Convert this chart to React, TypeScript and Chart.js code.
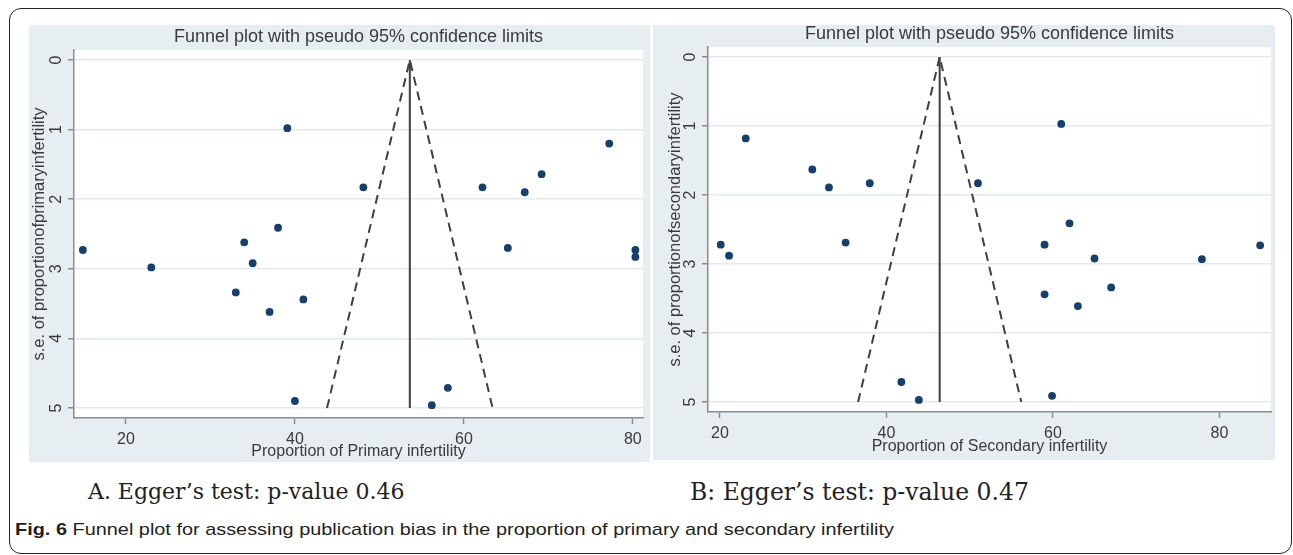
import React, { useEffect, useRef } from "react";
import { Chart, registerables } from "chart.js";

Chart.register(...registerables);

// ---- data ----
const primaryProportion = [14.9, 23.0, 39.1, 48.1, 38.0, 34.0, 35.0, 33.0, 37.0, 41.0, 40.0, 56.2, 58.1, 62.2, 65.2, 67.2, 69.2, 77.2, 80.3, 80.3];
const primarySE = [2.73, 2.98, 0.98, 1.83, 2.41, 2.62, 2.92, 3.34, 3.62, 3.44, 4.9, 4.96, 4.71, 1.83, 2.7, 1.9, 1.64, 1.2, 2.73, 2.83];
const secondaryProportion = [20.1, 21.1, 23.1, 31.1, 33.1, 38.0, 35.1, 51.0, 41.8, 43.9, 59.0, 59.0, 61.0, 62.0, 63.0, 65.0, 67.0, 59.9, 77.9, 84.9];
const secondarySE = [2.72, 2.88, 1.18, 1.63, 1.89, 1.83, 2.69, 1.83, 4.71, 4.97, 2.72, 3.44, 0.97, 2.41, 3.61, 2.92, 3.34, 4.91, 2.93, 2.73];

const primaryPooled = 53.6;
const secondaryPooled = 46.4;
const primaryLimitX = [43.8, 53.6, 63.4];
const secondaryLimitX = [36.6, 46.4, 56.2];
const limitSE = [5, 0, 5];
const pooledLineSE = [0, 5];

const xTicks = [20, 40, 60, 80];
const yTicks = [0, 1, 2, 3, 4, 5];

const chartTitle = "Funnel plot with pseudo 95% confidence limits";
const primaryXTitle = "Proportion of Primary infertility";
const primaryYTitle = "s.e. of proportionofprimaryinfertility";
const secondaryXTitle = "Proportion of Secondary infertility";
const secondaryYTitle = "s.e. of proportionofsecondaryinfertility";

const captionA = "A. Egger\u2019s test: p-value 0.46";
const captionB = "B: Egger\u2019s test: p-value 0.47";
const figLabel = "Fig. 6";
const figCaption = " Funnel plot for assessing publication bias in the proportion of primary and secondary infertility";

// ---- styles ----
const PANEL_BG = "#e7eef2";
const GRID = "#e2eaee";
const AXIS = "#8c8c8c";
const TEXT = "#3a3a3a";
const NAVY = "#163f6b";
const LINE = "#3f3f3f";
const SANS = "'Liberation Sans', Arial, sans-serif";
const SERIF = "'DejaVu Serif', 'Liberation Serif', serif";

type PanelCfg = {
  left: number;
  top: number;
  width: number;
  height: number;
  yAxisWidth: number;
  xAxisHeight: number;
  padTop: number;
  padRight: number;
  xMin: number;
  xMax: number;
  yMin: number;
  yMax: number;
  titleY: number;
  yTitlePad: number;
  xTitlePad: number;
  xs: number[];
  ses: number[];
  pooled: number;
  limitX: number[];
  xTitle: string;
  yTitle: string;
};

const leftCfg: PanelCfg = {
  left: 29, top: 25, width: 621, height: 437,
  yAxisWidth: 45, xAxisHeight: 44, padTop: 25, padRight: 7,
  xMin: 13.85, xMax: 81.2, yMin: -0.144, yMax: 5.144,
  titleY: 12, yTitlePad: 0.2, xTitlePad: 0.4,
  xs: primaryProportion, ses: primarySE, pooled: primaryPooled, limitX: primaryLimitX,
  xTitle: primaryXTitle, yTitle: primaryYTitle,
};

const rightCfg: PanelCfg = {
  left: 653, top: 25, width: 622, height: 435,
  yAxisWidth: 55, xAxisHeight: 48, padTop: 22, padRight: 0,
  xMin: 18.57, xMax: 86.2, yMin: -0.145, yMax: 5.145,
  titleY: 9, yTitlePad: 12.1, xTitlePad: 3.4,
  xs: secondaryProportion, ses: secondarySE, pooled: secondaryPooled, limitX: secondaryLimitX,
  xTitle: secondaryXTitle, yTitle: secondaryYTitle,
};

function FunnelPanel({ cfg }: { cfg: PanelCfg }) {
  const ref = useRef<HTMLCanvasElement | null>(null);
  useEffect(() => {
    if (!ref.current) return;
    const bgPlugin = {
      id: "plotBg",
      beforeDraw(chart: any) {
        const { ctx, chartArea } = chart;
        ctx.save();
        ctx.fillStyle = PANEL_BG;
        ctx.fillRect(0, 0, chart.width, chart.height);
        ctx.fillStyle = "#ffffff";
        ctx.fillRect(chartArea.left, chartArea.top, chartArea.right - chartArea.left, chartArea.bottom - chartArea.top);
        ctx.restore();
      },
      afterDraw(chart: any) {
        const { ctx, chartArea } = chart;
        ctx.save();
        ctx.fillStyle = TEXT;
        ctx.font = `18px ${SANS}`;
        ctx.textAlign = "center";
        ctx.textBaseline = "middle";
        ctx.fillText(chartTitle, (chartArea.left + chartArea.right) / 2, cfg.titleY);
        ctx.restore();
      },
    };
    const chart = new Chart(ref.current, {
      type: "scatter",
      data: {
        datasets: [
          {
            label: "studies",
            data: cfg.xs.map((x, i) => ({ x, y: cfg.ses[i] })),
            backgroundColor: NAVY,
            borderWidth: 0,
            pointRadius: 3.9,
            order: 0,
          },
          {
            label: "pooled",
            data: pooledLineSE.map((y) => ({ x: cfg.pooled, y })),
            showLine: true,
            borderColor: LINE,
            borderWidth: 2,
            pointRadius: 0,
            order: 1,
          },
          {
            label: "limits",
            data: cfg.limitX.map((x, i) => ({ x, y: limitSE[i] })),
            showLine: true,
            borderColor: LINE,
            borderWidth: 2,
            borderDash: [9, 6],
            pointRadius: 0,
            order: 2,
          },
        ],
      },
      options: {
        animation: false,
        responsive: false,
        devicePixelRatio: 1,
        layout: { padding: { top: cfg.padTop, right: cfg.padRight, left: 0, bottom: 0 } },
        plugins: { legend: { display: false }, tooltip: { enabled: false }, title: { display: false } },
        scales: {
          x: {
            type: "linear",
            min: cfg.xMin,
            max: cfg.xMax,
            afterBuildTicks: (s: any) => {
              s.ticks = xTicks.map((v) => ({ value: v }));
            },
            afterFit: (s: any) => {
              s.height = cfg.xAxisHeight;
            },
            grid: { drawOnChartArea: false, tickLength: 6, tickColor: AXIS, tickWidth: 1.5 },
            border: { display: true, color: AXIS, width: 1.5 },
            ticks: { color: TEXT, font: { family: SANS, size: 16 }, padding: 5.5, maxRotation: 0, minRotation: 0 },
            title: {
              display: true,
              text: cfg.xTitle,
              color: TEXT,
              font: { family: SANS, size: 16 },
              padding: { top: 0, bottom: cfg.xTitlePad },
            },
          },
          y: {
            type: "linear",
            reverse: true,
            min: cfg.yMin,
            max: cfg.yMax,
            afterBuildTicks: (s: any) => {
              s.ticks = yTicks.map((v) => ({ value: v }));
            },
            afterFit: (s: any) => {
              s.width = cfg.yAxisWidth;
            },
            grid: { color: GRID, lineWidth: 1.5, tickLength: 6, tickColor: AXIS, tickWidth: 1.5 },
            border: { display: true, color: AXIS, width: 1.5 },
            ticks: {
              color: TEXT,
              font: { family: SANS, size: 16 },
              padding: 7,
              minRotation: 90,
              maxRotation: 90,
              crossAlign: "center",
            },
            title: {
              display: true,
              text: cfg.yTitle,
              color: TEXT,
              font: { family: SANS, size: 16.5 },
              padding: { top: cfg.yTitlePad, bottom: 0 },
            },
          },
        },
      },
      plugins: [bgPlugin],
    } as any);
    return () => chart.destroy();
  }, [cfg]);
  return (
    <div
      style={{
        position: "absolute",
        left: cfg.left,
        top: cfg.top,
        width: cfg.width,
        height: cfg.height,
        background: PANEL_BG,
      }}
    >
      <canvas ref={ref} width={cfg.width} height={cfg.height} style={{ display: "block", width: cfg.width, height: cfg.height }} />
    </div>
  );
}

export default function App() {
  return (
    <div
      style={{
        position: "absolute",
        left: 0,
        top: 0,
        width: 1293,
        height: 555,
        overflow: "hidden",
        background: "#ffffff",
      }}
    >
      <div
        style={{
          position: "absolute",
          left: 9,
          top: 8,
          width: 1283,
          height: 546,
          border: "1.5px solid #222",
          borderRadius: 12,
          boxSizing: "border-box",
        }}
      />
      <FunnelPanel cfg={leftCfg} />
      <FunnelPanel cfg={rightCfg} />
      <div
        style={{
          position: "absolute",
          left: 88,
          top: 477,
          fontFamily: SERIF,
          fontSize: 22,
          lineHeight: "30px",
          color: "#222",
          whiteSpace: "nowrap",
        }}
      >
        {captionA}
      </div>
      <div
        style={{
          position: "absolute",
          left: 690,
          top: 477,
          fontFamily: SERIF,
          fontSize: 23.5,
          lineHeight: "30px",
          color: "#222",
          whiteSpace: "nowrap",
        }}
      >
        {captionB}
      </div>
      <div
        style={{
          position: "absolute",
          left: 15,
          top: 519,
          fontFamily: SANS,
          fontSize: 17,
          lineHeight: "22px",
          color: "#231f20",
          whiteSpace: "nowrap",
          transform: "scaleX(1.17)",
          transformOrigin: "left center",
        }}
      >
        <span style={{ fontWeight: "bold" }}>{figLabel}</span>
        {figCaption}
      </div>
    </div>
  );
}
